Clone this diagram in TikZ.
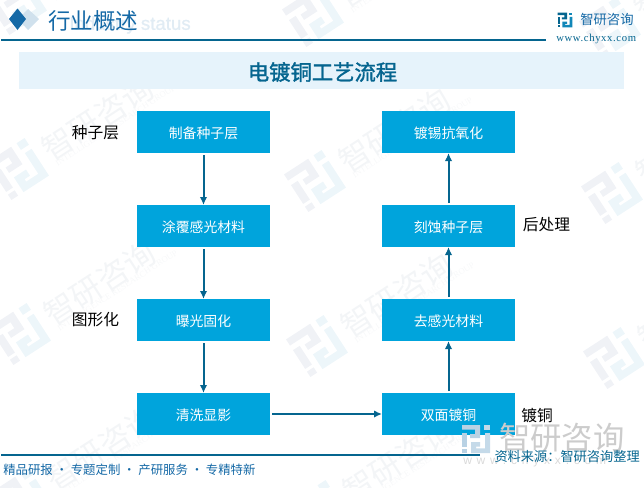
\documentclass[tikz,border=0pt]{standalone}
\usepackage{fontspec}
\setmainfont{Noto Sans CJK SC}
\newfontfamily\titlefont{Noto Sans CJK SC}[FakeBold=1.5]
\newfontfamily\latinfont{Liberation Serif}
\newfontfamily\wideserif{Liberation Serif}[LetterSpace=6]
\newfontfamily\widesans{Liberation Sans}[LetterSpace=40]
\newfontfamily\statusfont{Liberation Sans}[FakeBold=1]
\usetikzlibrary{arrows.meta}
\definecolor{boxblue}{HTML}{00A4DC}
\definecolor{darkline}{HTML}{05658F}
\definecolor{headblue}{HTML}{1569A6}
\definecolor{bannerblue}{HTML}{E6F3FB}
\definecolor{markgrey}{HTML}{F3F5F7}
\definecolor{markpale}{HTML}{F0F2F6}
\definecolor{markcyan}{HTML}{EDF6FA}
\definecolor{marklatin}{HTML}{F7F8F9}
\tikzset{
  stepbox/.style={draw=none,fill=boxblue,text=white,minimum width=99.75pt,minimum height=31.5pt,inner sep=0pt,outer sep=0pt,text height=11pt,text depth=1pt,font=\fontsize{10.4}{12}\selectfont},
  flowarrow/.style={draw=darkline,line width=1.5pt,-{Latex[length=6pt,width=5.6pt]},shorten <=1.5pt},
  sidelabel/.style={text=black,inner sep=0pt,font=\fontsize{11.8}{12}\selectfont},
  rule/.style={draw=darkline,line width=0.9pt},
  flat/.style={anchor=west,inner sep=0pt}
}
% logo: x, y, scale, rotation, left colour, right colour
\newcommand{\logomark}[6]{
  \begin{scope}[shift={(#1,#2)},rotate=#4,scale=#3,shift={(-7,-7)}]
    \fill[#5] (0,0) -- (9,0) -- (9,6.5) -- (4,6.5) -- (4,4.5) -- (6.5,4.5) -- (6.5,2.3) -- (0,2.3) -- cycle;
    \fill[#5] (0,4) rectangle (2.5,11);
    \fill[#5] (0,12) rectangle (2.5,14);
    \fill[#6] (11,0) rectangle (14,2.5);
    \fill[#6] (11.5,4) -- (14,4) -- (14,14) -- (4.5,14) -- (4.5,8.5) -- (9,8.5) -- (9,10.8) -- (7,10.8) -- (7,11.7) -- (11.5,11.7) -- cycle;
  \end{scope}
}
\begin{document}
\begin{tikzpicture}[x=0.75pt,y=-0.75pt]
% Page
\useasboundingbox (0,0) rectangle (644,487);

% Watermark
\foreach \col in {0,1,2}{
  \foreach \row in {0,1,2,3}{
    \pgfmathsetmacro\markX{16+297*\col+2*\row}
    \pgfmathsetmacro\markY{4+12*\col+165*\row}
    \logomark{\markX}{\markY}{3.2}{33}{markpale}{markcyan}
    \node[flat,rotate=33,text=markgrey,font=\fontsize{23.5}{24}\selectfont] (mark\col\row) at (\markX+27,\markY-16) {智研咨询};
    \node[flat,rotate=33,text=marklatin,font=\latinfont\fontsize{6.5}{8}\selectfont] (group\col\row) at (\markX+38,\markY-5) {INTELLIGENCE RESEARCH GROUP};
  }
}

% Header
\fill[fill=headblue!20] (28,9) -- (39,19) -- (28,30) -- (18,19) -- cycle;
\fill[fill=headblue] (17.5,8.5) -- (26,19) -- (17.5,30) -- (9,19) -- cycle;
\node[anchor=east,inner sep=0pt,text=headblue!13,font=\statusfont\fontsize{14}{16}\selectfont] (industry) at (191,25) {Industry status};
\node[flat,text=headblue,font=\fontsize{16.9}{18}\selectfont] (headline) at (48,21) {行业概述};
\draw[rule] (1,40) -- (546,40);
\logomark{565}{20}{1.05}{0}{darkline}{headblue!80!cyan}
\node[flat,text=headblue,font=\fontsize{10}{12}\selectfont] (brand) at (580,19) {智研咨询};
\node[flat,text=darkline,font=\wideserif\fontsize{8}{10}\selectfont] (site) at (556,39) {www.chyxx.com};

% Banner
\fill[fill=bannerblue] (19,52) rectangle (624,89);
\node[inner sep=0pt,text=darkline,font=\titlefont\fontsize{16}{18}\selectfont] (title) at (322.5,72) {电镀铜工艺流程};

% Steps
\node[stepbox] (seed) at (203.5,132) {制备种子层};
\node[stepbox] (coat) at (203.5,226) {涂覆感光材料};
\node[stepbox] (expose) at (203.5,320) {曝光固化};
\node[stepbox] (develop) at (203.5,414) {清洗显影};
\node[stepbox] (plate) at (448.5,414) {双面镀铜};
\node[stepbox] (strip) at (448.5,320) {去感光材料};
\node[stepbox] (etch) at (448.5,226) {刻蚀种子层};
\node[stepbox] (tin) at (448.5,132) {镀锡抗氧化};

% Arrows
\draw[flowarrow] (seed) -- (coat);
\draw[flowarrow] (coat) -- (expose);
\draw[flowarrow] (expose) -- (develop);
\draw[flowarrow] (develop) -- (plate);
\draw[flowarrow] (plate) -- (strip);
\draw[flowarrow] (strip) -- (etch);
\draw[flowarrow] (etch) -- (tin);

% Side labels
\node[sidelabel] (seedlabel) at (95.5,133) {种子层};
\node[sidelabel] (patternlabel) at (95.5,320) {图形化};
\node[sidelabel] (postlabel) at (546.5,225) {后处理};
\node[sidelabel] (platelabel) at (537,415) {镀铜};

% Footer
\logomark{476}{439}{2}{0}{headblue!30}{headblue!25}
\node[flat,text=black!20,font=\fontsize{23.5}{24}\selectfont] (bigmark) at (499,438) {智研咨询};
\node[flat,text=black!15,font=\widesans\fontsize{9}{10}\selectfont] (bigsite) at (463,461) {www.chyxx.com};
\draw[rule] (1,455) -- (480,455);
\node[flat,text=headblue,font=\fontsize{9.3}{12}\selectfont] (slogan) at (3,470) {精品研报 · 专题定制 · 产研服务 · 专精特新};
\node[anchor=east,inner sep=0pt,text=darkline,font=\fontsize{9.9}{12}\selectfont] (source) at (640,457) {资料来源：智研咨询整理};
\end{tikzpicture}
\end{document}
